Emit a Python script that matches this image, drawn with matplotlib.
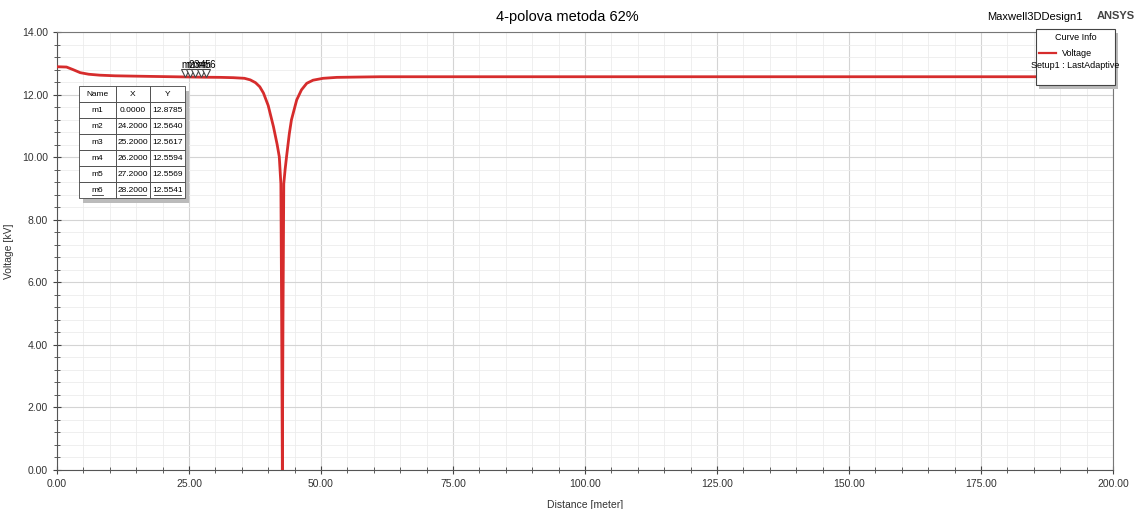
import matplotlib.pyplot as plt
from matplotlib.ticker import MultipleLocator, FormatStrFormatter
from matplotlib.patches import Rectangle

plt.rcParams['font.family'] = ['Liberation Sans', 'DejaVu Sans']

# curve
distance = [0.0, 1.8, 3.0, 4.4, 6.0, 8.1, 11.0, 14.4, 18.0, 24.2, 25.2, 26.2, 27.2, 28.2,
            31.0, 33.4, 35.5, 36.6, 37.6, 38.4, 39.1, 40.0, 41.0, 41.7, 42.1, 42.4, 42.55,
            42.68, 42.8, 42.95, 43.2, 43.5, 44.0, 44.4, 45.4, 46.3, 47.3, 48.5, 50.4,
            53.0, 57.0, 61.2, 70.0, 100.0, 150.0, 200.0]
voltage = [12.89, 12.88, 12.80, 12.70, 12.65, 12.62, 12.60, 12.59, 12.58, 12.564, 12.562, 12.559,
           12.557, 12.554, 12.55, 12.54, 12.52, 12.47, 12.38, 12.25, 12.05, 11.65, 10.97,
           10.40, 10.01, 9.15, 4.79, 0.0, 4.79, 9.15, 9.60, 10.05, 10.75, 11.19, 11.83,
           12.15, 12.36, 12.46, 12.52, 12.55, 12.56, 12.57, 12.57, 12.57, 12.57, 12.57]

marker_names = ['m1', 'm2', 'm3', 'm4', 'm5', 'm6']
marker_x = [0.0, 24.2, 25.2, 26.2, 27.2, 28.2]
marker_y = [12.8785, 12.5640, 12.5617, 12.5594, 12.5569, 12.5541]

fig = plt.figure(figsize=(11.35, 5.09), dpi=100)
ax = fig.add_axes([57 / 1135, 1 - 470 / 509, 1056 / 1135, 438 / 509])

ax.plot(distance, voltage, color='#d62c2c', lw=2.0, zorder=3)

ax.set_xlim(0, 200)
ax.set_ylim(0, 14)
ax.xaxis.set_major_locator(MultipleLocator(25))
ax.xaxis.set_minor_locator(MultipleLocator(5))
ax.yaxis.set_major_locator(MultipleLocator(2))
ax.yaxis.set_minor_locator(MultipleLocator(0.4))
ax.xaxis.set_major_formatter(FormatStrFormatter('%.2f'))
ax.yaxis.set_major_formatter(FormatStrFormatter('%.2f'))
ax.grid(True, which='major', color='#d4d4d4', lw=0.8)
ax.grid(True, which='minor', color='#ececec', lw=0.6)
ax.set_axisbelow(True)
ax.tick_params(which='both', direction='inout', colors='#444444', labelsize=7.5,
               labelcolor='#333333', top=False, right=False)
ax.tick_params(which='major', length=6)
ax.tick_params(which='minor', length=5)
for s in ['left', 'bottom']:
    ax.spines[s].set_color('#555555')
for s in ['top', 'right']:
    ax.spines[s].set_color('#777777')
    ax.spines[s].set_linewidth(0.8)

ax.set_xlabel('Distance [meter]', fontsize=7.5, color='#333333', labelpad=8)
ax.set_ylabel('Voltage [kV]', fontsize=7.5, color='#333333', labelpad=6)

fig.text(0.5, 1 - 17 / 509, '4-polova metoda 62%', ha='center', va='center', fontsize=10.5)
fig.text(1083 / 1135, 1 - 17 / 509, 'Maxwell3DDesign1', ha='right', va='center', fontsize=8)
fig.text(1097 / 1135, 1 - 16 / 509, 'ANSYS', ha='left', va='center', fontsize=8, weight='bold',
         color='#444444')

# markers m2..m6 (labels overlap, as in the original)
for name, mx, my in zip(marker_names[1:], marker_x[1:], marker_y[1:]):
    ax.plot(mx, my + 0.12, marker='v', ms=6, mfc='white', mec='#444444', mew=0.8,
            zorder=4, clip_on=False)
    ax.text(mx - 0.6, my + 0.22, name, fontsize=7, ha='left', va='bottom', zorder=5)

# marker table
rows = [[n, '%.4f' % x, '%.4f' % y] for n, x, y in zip(marker_names, marker_x, marker_y)]
tx0, tx1 = (79 - 57) / 1056, (185 - 57) / 1056
ty0, ty1 = (470 - 198) / 438, (470 - 86) / 438
ax.add_patch(Rectangle((tx0 + 0.004, ty0 - 0.012), tx1 - tx0, ty1 - ty0,
                       transform=ax.transAxes, color='#bbbbbb', zorder=5, lw=0))
tab = ax.table(cellText=rows, colLabels=['Name', 'X', 'Y'], cellLoc='center',
               bbox=[tx0, ty0, tx1 - tx0, ty1 - ty0], colWidths=[0.35, 0.32, 0.33])
tab.auto_set_font_size(False)
tab.set_fontsize(6)
tab.set_zorder(6)
for (r, c), cell in tab.get_celld().items():
    cell.set_edgecolor('#444444')
    cell.set_linewidth(0.6)
    cell.set_facecolor('white')

# underline the selected last row
row_h = (ty1 - ty0) / 7
col_edges = [tx0, tx0 + 0.35 * (tx1 - tx0), tx0 + 0.67 * (tx1 - tx0), tx1]
half_widths = [0.0055, 0.0125, 0.0125]
for c in range(3):
    cx = (col_edges[c] + col_edges[c + 1]) / 2
    ax.plot([cx - half_widths[c], cx + half_widths[c]], [ty0 + row_h * 0.2] * 2,
            transform=ax.transAxes, color='#333333', lw=0.6, zorder=20)

# curve info box
bx0, bx1 = 1036 / 1135, 1115 / 1135
by0, by1 = 1 - 85 / 509, 1 - 29 / 509
fig.patches.append(Rectangle((bx0 + 0.003, by0 - 0.007), bx1 - bx0, by1 - by0,
                             transform=fig.transFigure, color='#bbbbbb', lw=0, zorder=5))
fig.patches.append(Rectangle((bx0, by0), bx1 - bx0, by1 - by0, transform=fig.transFigure,
                             facecolor='white', edgecolor='#444444', lw=0.8, zorder=6))
fig.text((bx0 + bx1) / 2, 1 - 38 / 509, 'Curve Info', ha='center', va='center', fontsize=6.5,
         zorder=7)
fig.lines.append(plt.Line2D([1039 / 1135, 1056 / 1135], [1 - 53 / 509, 1 - 53 / 509],
                            transform=fig.transFigure, color='#d62c2c', lw=1.6, zorder=7))
fig.text(1062 / 1135, 1 - 53 / 509, 'Voltage', ha='left', va='center', fontsize=6.5, zorder=7)
fig.text((bx0 + bx1) / 2, 1 - 65 / 509, 'Setup1 : LastAdaptive', ha='center', va='center',
         fontsize=6.5, zorder=7)

fig.savefig('out.png', dpi=100, facecolor='white')
